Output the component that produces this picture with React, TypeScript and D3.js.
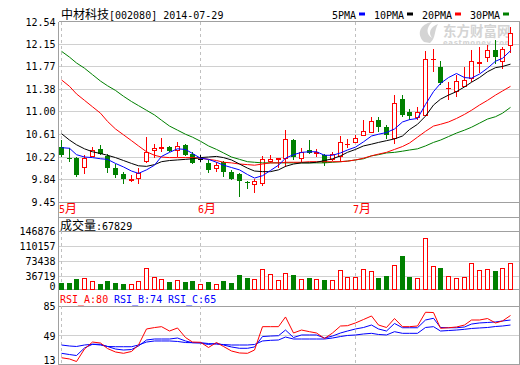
import * as d3 from "d3";

// 中材科技 002080, daily candles 2014-05 .. 2014-07-29 (59 trading days)
const opens = [10.39, 10.20, 10.20, 10.05, 10.24, 10.35, 10.24, 10.04, 9.93, 9.83, 9.86, 10.16, 10.34, 10.37, 10.39, 10.34, 10.42, 10.28, 10.18, 10.12, 10.03, 10.14, 9.97, 9.93, 9.80, 9.76, 9.77, 10.16, 10.19, 10.21, 10.51, 10.21, 10.34, 10.29, 10.25, 10.18, 10.24, 10.44, 10.47, 10.59, 10.64, 10.86, 10.73, 10.54, 11.22, 10.99, 10.91, 10.94, 11.89, 11.76, 11.40, 11.35, 11.43, 11.58, 11.83, 11.94, 12.06, 11.87, 12.13];
const highs = [10.51, 10.37, 10.22, 10.25, 10.40, 10.42, 10.27, 10.10, 9.96, 9.91, 10.03, 10.57, 10.44, 10.54, 10.41, 10.48, 10.45, 10.31, 10.25, 10.17, 10.14, 10.16, 10.00, 9.94, 9.81, 9.84, 10.24, 10.25, 10.21, 10.68, 10.53, 10.37, 10.51, 10.35, 10.28, 10.30, 10.58, 10.53, 10.59, 10.86, 10.91, 10.91, 10.76, 11.28, 11.28, 11.05, 11.07, 12.03, 12.07, 11.87, 11.50, 11.62, 11.76, 12.05, 12.10, 12.13, 12.23, 12.10, 12.45];
const lows = [10.22, 10.13, 9.87, 9.93, 10.23, 10.25, 9.95, 9.86, 9.75, 9.79, 9.76, 10.12, 10.20, 10.31, 10.31, 10.22, 10.24, 10.10, 10.13, 9.95, 9.97, 9.88, 9.83, 9.53, 9.68, 9.61, 9.73, 10.12, 10.03, 10.05, 10.17, 10.14, 10.28, 10.22, 10.07, 10.15, 10.13, 10.38, 10.46, 10.58, 10.63, 10.65, 10.52, 10.44, 10.91, 10.85, 10.85, 10.92, 11.67, 11.46, 11.20, 11.25, 11.42, 11.50, 11.65, 11.85, 11.82, 11.73, 12.00];
const closes = [10.25, 10.18, 9.92, 10.21, 10.34, 10.27, 10.03, 9.92, 9.84, 9.85, 9.95, 10.30, 10.38, 10.39, 10.32, 10.41, 10.26, 10.12, 10.18, 10.00, 10.08, 9.97, 9.84, 9.81, 9.77, 9.81, 10.18, 10.18, 10.20, 10.52, 10.22, 10.31, 10.29, 10.30, 10.12, 10.27, 10.47, 10.45, 10.54, 10.66, 10.83, 10.73, 10.59, 11.14, 10.94, 10.92, 10.99, 11.89, 11.90, 11.48, 11.41, 11.52, 11.53, 11.87, 11.84, 12.05, 11.94, 12.07, 12.35];
const volumes = [21050, 21050, 30100, 31800, 25200, 17900, 25200, 21050, 17900, 17900, 25200, 56300, 34300, 29400, 23500, 26900, 23500, 25200, 17900, 22800, 17900, 25200, 21050, 39900, 31800, 29400, 53900, 42300, 27700, 45500, 39900, 30100, 33300, 30100, 27700, 27700, 52100, 35700, 35700, 53900, 49700, 33300, 37500, 64400, 87100, 35700, 31800, 129700, 61900, 57800, 37500, 32600, 35700, 70000, 52100, 54600, 49700, 57000, 67829];

const ma5 = [10.38, 10.37, 10.26, 10.22, 10.21, 10.19, 10.18, 10.11, 10.05, 9.98, 9.94, 10.00, 10.08, 10.23, 10.30, 10.36, 10.35, 10.28, 10.20, 10.18, 10.13, 10.08, 10.04, 10.00, 9.92, 9.86, 9.90, 9.99, 10.08, 10.20, 10.26, 10.30, 10.31, 10.31, 10.25, 10.25, 10.29, 10.34, 10.39, 10.48, 10.58, 10.61, 10.64, 10.70, 10.82, 10.86, 10.88, 11.12, 11.34, 11.48, 11.58, 11.65, 11.58, 11.57, 11.64, 11.74, 11.86, 11.91, 12.04];
const ma10 = [10.62, 10.51, 10.43, 10.36, 10.31, 10.28, 10.25, 10.21, 10.16, 10.11, 10.07, 10.06, 10.09, 10.14, 10.16, 10.17, 10.18, 10.19, 10.21, 10.22, 10.23, 10.21, 10.17, 10.10, 10.03, 9.98, 9.97, 9.97, 10.00, 10.06, 10.10, 10.12, 10.12, 10.13, 10.16, 10.19, 10.24, 10.30, 10.35, 10.41, 10.44, 10.47, 10.50, 10.53, 10.58, 10.69, 10.78, 10.92, 11.11, 11.21, 11.28, 11.34, 11.42, 11.50, 11.58, 11.68, 11.75, 11.77, 11.81];
const ma20 = [11.54, 11.43, 11.30, 11.19, 11.08, 10.97, 10.83, 10.70, 10.60, 10.50, 10.41, 10.31, 10.25, 10.22, 10.21, 10.21, 10.21, 10.21, 10.20, 10.18, 10.16, 10.13, 10.12, 10.10, 10.09, 10.08, 10.10, 10.12, 10.12, 10.13, 10.13, 10.13, 10.14, 10.14, 10.14, 10.14, 10.14, 10.15, 10.17, 10.20, 10.24, 10.27, 10.30, 10.35, 10.40, 10.46, 10.56, 10.66, 10.75, 10.78, 10.82, 10.88, 10.95, 11.02, 11.11, 11.19, 11.28, 11.35, 11.43];
const ma30 = [12.03, 11.93, 11.83, 11.74, 11.63, 11.52, 11.44, 11.36, 11.26, 11.17, 11.10, 11.02, 10.94, 10.85, 10.75, 10.68, 10.61, 10.56, 10.49, 10.41, 10.35, 10.29, 10.22, 10.18, 10.14, 10.13, 10.12, 10.12, 10.12, 10.12, 10.12, 10.12, 10.12, 10.12, 10.12, 10.13, 10.14, 10.15, 10.17, 10.19, 10.24, 10.26, 10.29, 10.30, 10.32, 10.34, 10.36, 10.41, 10.47, 10.51, 10.57, 10.63, 10.68, 10.73, 10.80, 10.87, 10.91, 10.97, 11.07];

const rsiA = [21.7, 20.2, 17.1, 32.3, 40.8, 39.6, 32.9, 28.7, 27.1, 29.3, 37.2, 56.7, 58.4, 59.5, 54.2, 57.9, 46.3, 40.8, 40.5, 34.2, 40.2, 35.4, 29.9, 27.5, 27.1, 31.1, 59.5, 59.5, 59.5, 71.3, 51.8, 55.4, 53.4, 51.8, 45.1, 51.8, 60.3, 60.7, 64.0, 68.2, 72.5, 61.5, 58.5, 69.4, 59.5, 59.5, 60.3, 77.0, 76.7, 57.5, 58.2, 59.1, 61.5, 67.6, 67.6, 69.4, 64.0, 66.4, 73.1];
const rsiB = [27.1, 25.6, 24.4, 33.6, 38.1, 38.1, 35.4, 32.3, 31.1, 31.7, 36.0, 43.3, 44.5, 44.5, 44.5, 45.7, 42.1, 40.0, 39.6, 37.8, 39.3, 37.2, 34.8, 33.2, 33.2, 34.8, 47.5, 48.1, 48.5, 55.4, 46.3, 49.4, 49.4, 49.4, 45.7, 48.1, 51.8, 54.2, 56.7, 58.5, 61.5, 56.7, 54.2, 63.4, 58.2, 58.2, 58.2, 67.6, 69.7, 58.5, 58.2, 58.2, 59.1, 62.7, 64.0, 64.6, 65.2, 66.4, 67.6];
const rsiC = [37.2, 36.0, 35.4, 37.2, 38.1, 37.2, 35.4, 35.1, 35.1, 35.1, 37.2, 40.8, 42.1, 42.1, 42.1, 41.5, 40.2, 40.0, 40.0, 39.0, 38.2, 37.8, 37.2, 37.2, 37.2, 37.8, 42.1, 42.9, 43.3, 46.9, 44.5, 44.5, 44.5, 44.5, 44.5, 45.7, 47.5, 48.8, 49.4, 50.6, 51.4, 50.0, 49.4, 53.4, 51.4, 51.4, 51.4, 58.5, 59.5, 54.2, 54.8, 55.4, 56.3, 57.3, 57.9, 58.5, 59.7, 60.3, 61.5];

const priceTicks = [12.54, 12.15, 11.77, 11.38, 11.0, 10.61, 10.22, 9.84, 9.45];
const volumeTicks = [146876, 110157, 73438, 36719, 0];
const rsiTicks = [85, 49, 13];
const monthStarts = [0, 18, 38];
const monthLabels = ["5", "6", "7"];
const legendItems = ["5PMA", "10PMA", "20PMA", "30PMA"];
const rsiHeader = ["RSI_A:80", "RSI_B:74", "RSI_C:65"];
const lastVolume = 67829;

const MONO = "'DejaVu Sans Mono', monospace";
const CJK = "'Noto Sans CJK SC', sans-serif";
const RED = "#ff0000";
const GREEN = "#008000";
const BLUE = "#0000ff";
const FRAME = "#a0a0a0";
const GRID = "#d0d0d0";

const W = 520;
const H = 365;
const L = 58.5;
const R = 519.5;
const priceTop = 21.5;
const priceBottom = 202;
const volTop = 217;
const volBottom = 289;
const rsiBottom = 364;

export default function App() {
  const x = d3.scaleLinear().domain([0, closes.length - 1]).range([60.8, 510]);
  const py = d3.scaleLinear().domain([9.45, 12.54]).range([priceBottom, priceTop]);
  const vy = d3.scaleLinear().domain([0, 146876]).range([291.3, 231]);
  const ry = d3.scaleLinear().domain([13, 85]).range([364.9, 305.7]);

  const col = (i: number) => Math.round(x(i));
  const maLine = d3.line<number>().x((_, i) => col(i) + 0.5).y((d) => py(d));
  const rsiLine = d3.line<number>().x((_, i) => col(i) + 0.5).y((d) => ry(d));

  const maSeries = [
    { data: ma30, color: GREEN },
    { data: ma20, color: RED },
    { data: ma10, color: "#000000" },
    { data: ma5, color: BLUE },
  ];
  const legendColors = [BLUE, "#000000", RED, GREEN];
  const legendX = [332, 374, 422, 470];

  return (
    <div style={{ position: "absolute", left: 0, top: 0, background: "#fff" }}>
      <svg width={W} height={H} viewBox={`0 0 ${W} ${H}`} style={{ display: "block" }}>
        <rect width={W} height={H} fill="#fff" />

        {/* title + legend */}
        <text x={61} y={19} fontSize={10} fill="#000">
          <tspan fontFamily={CJK} fontSize={12}>中材科技</tspan>
          <tspan fontFamily={MONO}>[002080] 2014-07-29</tspan>
        </text>
        {legendItems.map((t, k) => (
          <g key={t}>
            <text x={legendX[k]} y={19} fontFamily={MONO} fontSize={10} fill="#000">{t}</text>
            <rect x={legendX[k] + t.length * 6 + 3} y={12.5} width={6} height={3} fill={legendColors[k]} />
          </g>
        ))}

        {/* watermark */}
        <g fill="#d4d4d4">
          <path d="M424 42 C416 34 420 24 432 22 C426 28 426 34 432 38 C428 33 430 27 438 24 C434 31 436 38 430 43 Z" />
          <text x={443} y={35.5} fontFamily={CJK} fontSize={13.5} fontWeight="bold">东方财富网</text>
          <text x={443} y={45} fontFamily="'DejaVu Sans', sans-serif" fontSize={7} fontWeight="bold" letterSpacing={0.6}>eastmoney.com</text>
        </g>

        {/* grids and frames */}
        <g shapeRendering="crispEdges">
          {priceTicks.slice(1, -1).map((t) => (
            <line key={t} x1={L} x2={R} y1={Math.round(py(t)) + 0.5} y2={Math.round(py(t)) + 0.5} stroke={GRID} />
          ))}
          {volumeTicks.slice(1, -1).map((t) => (
            <line key={t} x1={L} x2={R} y1={Math.round(vy(t)) + 0.5} y2={Math.round(vy(t)) + 0.5} stroke={GRID} />
          ))}
          <line x1={L} x2={R} y1={Math.round(vy(volumeTicks[0])) + 0.5} y2={Math.round(vy(volumeTicks[0])) + 0.5} stroke={FRAME} />
          <line x1={L} x2={R} y1={Math.round(ry(49)) + 0.5} y2={Math.round(ry(49)) + 0.5} stroke={GRID} />
          <line x1={L} x2={R} y1={Math.round(ry(85)) + 0.5} y2={Math.round(ry(85)) + 0.5} stroke={FRAME} />
          {monthStarts.map((i) => (
            <g key={i} stroke="#c0c0c0" strokeDasharray="3,3">
              <line x1={col(i) + 0.5} x2={col(i) + 0.5} y1={priceTop} y2={priceBottom} />
              <line x1={col(i) + 0.5} x2={col(i) + 0.5} y1={Math.round(vy(volumeTicks[0]))} y2={volBottom} />
              <line x1={col(i) + 0.5} x2={col(i) + 0.5} y1={Math.round(ry(85))} y2={rsiBottom} />
            </g>
          ))}
          <g stroke={FRAME} fill="none">
            <line x1={L} x2={R} y1={priceTop} y2={priceTop} />
            <line x1={L} x2={R} y1={priceBottom + 0.5} y2={priceBottom + 0.5} />
            <line x1={L} x2={R} y1={volTop + 0.5} y2={volTop + 0.5} />
            <line x1={L} x2={R} y1={volBottom + 0.5} y2={volBottom + 0.5} />
            <line x1={L} x2={R} y1={rsiBottom + 0.5} y2={rsiBottom + 0.5} />
            <line x1={L} x2={L} y1={priceTop} y2={H} />
            <line x1={R} x2={R} y1={priceTop} y2={H} />
          </g>
        </g>

        {/* axis labels */}
        <g fontFamily={MONO} fontSize={10} fill="#000" textAnchor="end">
          {priceTicks.map((t) => (
            <text key={t} x={55.5} y={py(t) + 4}>{t.toFixed(2)}</text>
          ))}
          {volumeTicks.map((t) => (
            <text key={t} x={55.5} y={t === 0 ? 290 : vy(t) + 3.5}>{t}</text>
          ))}
          {rsiTicks.map((t) => (
            <text key={t} x={55.5} y={Math.min(ry(t) + 4.5, 363.5)}>{t}</text>
          ))}
        </g>
        {monthStarts.map((i, k) => (
          <text key={i} x={col(i) - 2} y={213} fill={RED} fontSize={10}>
            <tspan fontFamily={MONO}>{monthLabels[k]}</tspan>
            <tspan fontFamily={CJK} fontSize={12}>月</tspan>
          </text>
        ))}

        {/* candles */}
        <g shapeRendering="crispEdges">
          {closes.map((c, i) => {
            const o = opens[i];
            const cx = col(i);
            const hi = Math.round(py(highs[i]));
            const lo = Math.round(py(lows[i]));
            const top = Math.round(py(Math.max(o, c)));
            const bot = Math.round(py(Math.min(o, c)));
            if (o === c) {
              return (
                <g key={i} stroke="#000">
                  <line x1={cx + 0.5} x2={cx + 0.5} y1={hi} y2={lo} />
                  <line x1={cx - 2} x2={cx + 3} y1={top + 0.5} y2={top + 0.5} />
                </g>
              );
            }
            if (c > o) {
              return (
                <g key={i} stroke={RED} fill="none">
                  <line x1={cx + 0.5} x2={cx + 0.5} y1={hi} y2={top} />
                  <line x1={cx + 0.5} x2={cx + 0.5} y1={bot} y2={lo} />
                  {bot - top >= 2 ? (
                    <rect x={cx - 1.5} y={top + 0.5} width={4} height={bot - top} fill="#fff" />
                  ) : (
                    <rect x={cx - 2} y={top} width={5} height={Math.max(1, bot - top + 1)} fill={RED} stroke="none" />
                  )}
                </g>
              );
            }
            return (
              <g key={i}>
                <line x1={cx + 0.5} x2={cx + 0.5} y1={hi} y2={lo} stroke={GREEN} />
                <rect x={cx - 2} y={top} width={5} height={Math.max(1, bot - top)} fill={GREEN} />
              </g>
            );
          })}
        </g>

        {/* moving averages */}
        {maSeries.map((s, k) => (
          <path key={k} d={maLine(s.data) ?? ""} fill="none" stroke={s.color} strokeWidth={1} />
        ))}

        {/* volume */}
        <text x={60} y={229.5} fill="#000" fontSize={10}>
          <tspan fontFamily={CJK} fontSize={12}>成交量</tspan>
          <tspan fontFamily={MONO}>:{lastVolume}</tspan>
        </text>
        <g shapeRendering="crispEdges">
          {volumes.map((v, i) => {
            const cx = col(i);
            const t = Math.round(vy(v));
            const up = closes[i] >= opens[i];
            return up ? (
              <rect key={i} x={cx - 1.5} y={t + 0.5} width={4} height={volBottom - t} fill="#fff" stroke={RED} />
            ) : (
              <rect key={i} x={cx - 2} y={t} width={5} height={volBottom + 1 - t} fill={GREEN} />
            );
          })}
        </g>

        {/* RSI */}
        <g fontFamily={MONO} fontSize={10}>
          {rsiHeader.map((t, k) => (
            <text key={t} x={60 + k * 54} y={303} fill={k === 0 ? RED : BLUE}>{t}</text>
          ))}
        </g>
        <path d={rsiLine(rsiC) ?? ""} fill="none" stroke={BLUE} />
        <path d={rsiLine(rsiB) ?? ""} fill="none" stroke={BLUE} />
        <path d={rsiLine(rsiA) ?? ""} fill="none" stroke={RED} />
      </svg>
    </div>
  );
}
